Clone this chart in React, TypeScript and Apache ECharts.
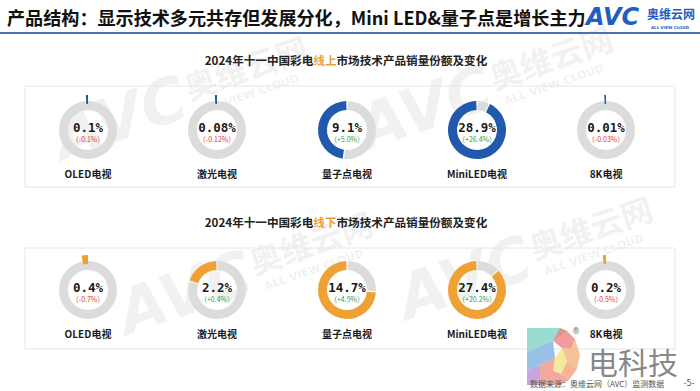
import React, { useEffect, useRef } from "react";
import * as echarts from "echarts";

const categories = ["OLED电视", "激光电视", "量子点电视", "MiniLED电视", "8K电视"];
// 线上 (online)
const onlineShare = [0.1, 0.08, 9.1, 28.9, 0.01];
const onlineChange = [-0.1, -0.12, 5.0, 26.4, -0.03];
const onlineArc = [1, 1, 48, 93, 0.8]; // ring fill as drawn in the picture (%)
// 线下 (offline)
const offlineShare = [0.4, 2.2, 14.7, 27.4, 0.2];
const offlineChange = [-0.7, 0.4, 4.9, 20.2, -0.5];
const offlineArc = [3, 20, 74, 87, 1.5];

const mainTitle = "产品结构：显示技术多元共存但发展分化，Mini LED&量子点是增长主力";
const headingPre = "2024年十一中国彩电";
const headingPost = "市场技术产品销量份额及变化";
const footnote = "数据来源：奥维云网（AVC）监测数据";

const BLUE = "#2159ad";
const ORANGE = "#eea135";
const GRAY = "#dcdcdc";
const CJK = "'Noto Sans CJK SC', sans-serif";

const decimals = (v: number) => {
  const s = String(Math.abs(v));
  const i = s.indexOf(".");
  return Math.max(1, i < 0 ? 0 : s.length - i - 1);
};
const fmt = (v: number) => v.toFixed(decimals(v));
const fmtChange = (v: number) => (v >= 0 ? "+" : "-") + Math.abs(v).toFixed(decimals(v));

const CX = [88, 217, 347, 477, 606];
const ROWS = [
  { cy: 130, share: onlineShare, change: onlineChange, arc: onlineArc, color: BLUE, word: "线上", hy: 60, box: 86 },
  { cy: 290, share: offlineShare, change: offlineChange, arc: offlineArc, color: ORANGE, word: "线下", hy: 222, box: 248 },
];
const R_IN = 20;
const R_OUT = 29;

function txt(x: number, y: number, text: string, font: string, fill: string, align = "center", extra: any = {}) {
  const { style: extraStyle, ...rest } = extra;
  return {
    type: "text",
    x,
    y,
    z: 10,
    silent: true,
    style: { text, font, fill, textAlign: align, textVerticalAlign: "middle", align, verticalAlign: "middle", ...(extraStyle || {}) },
    ...rest,
  };
}

function watermark(x: number, y: number) {
  const fill = "rgba(170,170,170,0.17)";
  return {
    type: "group",
    x,
    y,
    rotation: 0.33,
    z: 1,
    silent: true,
    children: [
      { type: "text", x: 0, y: 0, style: { text: "AVC", font: "italic bold 62px 'DejaVu Sans'", fill, textVerticalAlign: "middle", verticalAlign: "middle" } },
      { type: "text", x: 140, y: -8, style: { text: "奥维云网", font: `bold 32px ${CJK}`, fill, textVerticalAlign: "middle", verticalAlign: "middle" } },
      { type: "text", x: 146, y: 20, style: { text: "ALL VIEW CLOUD", font: "bold 11px 'DejaVu Sans'", fill, textVerticalAlign: "middle", verticalAlign: "middle" } },
    ],
  };
}

export default function App() {
  const ref = useRef<HTMLDivElement>(null);
  useEffect(() => {
    if (!ref.current) return;
    const chart = echarts.init(ref.current, null, { renderer: "svg" });
    const series: any[] = [];
    const graphic: any[] = [];

    // header
    graphic.push(txt(7, 17, mainTitle, `bold 18.1px ${CJK}`, "#111", "left"));
    graphic.push({ type: "rect", shape: { x: 0, y: 32, width: 700, height: 2 }, style: { fill: "#4a72ae" }, z: 5 });
    // AVC logo
    graphic.push(txt(586, 17, "AVC", "italic bold 24px 'DejaVu Sans'", "#1f5fbf", "left"));
    graphic.push(txt(647, 13, "奥维云网", `bold 12px ${CJK}`, "#1f5fbf", "left"));
    graphic.push(txt(651, 27, "ALL VIEW CLOUD", "bold 4px 'DejaVu Sans'", "#1f5fbf", "left"));

    // watermarks
    graphic.push(watermark(55, 140));
    graphic.push(watermark(360, 130));
    graphic.push(watermark(120, 315));
    graphic.push(watermark(400, 300));

    ROWS.forEach((row) => {
      // heading (rich text so the coloured word sits inline)
      graphic.push({
        type: "text",
        x: 346,
        y: row.hy,
        z: 10,
        silent: true,
        style: {
          text: `{a|${headingPre}}{b|${row.word}}{a|${headingPost}}`,
          font: `bold 11.6px ${CJK}`,
          textAlign: "center",
          textVerticalAlign: "middle",
          align: "center",
          verticalAlign: "middle",
          rich: {
            a: { fill: "#222", color: "#222", font: `bold 11.6px ${CJK}`, fontSize: 11.6, fontWeight: "bold", fontFamily: CJK },
            b: { fill: "#e9a23b", color: "#e9a23b", font: `bold 11.6px ${CJK}`, fontSize: 11.6, fontWeight: "bold", fontFamily: CJK },
          },
        },
      });
      // panel
      graphic.push({
        type: "rect",
        shape: { x: 25, y: row.box, width: 650, height: 101 },
        style: { fill: "none", stroke: "#e6e6e6", lineWidth: 1 },
        z: 2,
        silent: true,
      });

      categories.forEach((cat, i) => {
        const cx = CX[i];
        const arc = row.arc[i];
        const tiny = arc < 4;
        if (tiny) {
          series.push({
            type: "pie",
            center: [cx, row.cy],
            radius: [R_IN, R_OUT],
            silent: true,
            label: { show: false },
            labelLine: { show: false },
            data: [{ value: 100, itemStyle: { color: GRAY } }],
            z: 3,
          });
          series.push({
            type: "pie",
            center: [cx, row.cy],
            radius: [R_OUT - 3, R_OUT + 6],
            startAngle: 90,
            clockwise: false,
            silent: true,
            label: { show: false },
            labelLine: { show: false },
            data: [
              { value: arc, itemStyle: { color: row.color } },
              { value: 100 - arc, itemStyle: { color: "rgba(0,0,0,0)" } },
            ],
            z: 4,
          });
        } else {
          series.push({
            type: "pie",
            center: [cx, row.cy],
            radius: [R_IN, R_OUT],
            startAngle: 90,
            clockwise: false,
            padAngle: 3,
            silent: true,
            label: { show: false },
            labelLine: { show: false },
            data: [
              { value: arc, itemStyle: { color: row.color } },
              { value: 100 - arc, itemStyle: { color: GRAY } },
            ],
            z: 3,
          });
        }
        const ch = row.change[i];
        graphic.push(txt(cx, row.cy - 3, fmt(row.share[i]) + "%", "bold 12.5px 'DejaVu Sans Mono'", "#1a1a1a"));
        graphic.push(txt(cx, row.cy + 9, "（" + fmtChange(ch) + "%）", `7px ${CJK}`, ch >= 0 ? "#27a348" : "#e23a30"));
        graphic.push(txt(cx, row.cy + 43, cat, `bold 10px ${CJK}`, "#1a1a1a"));
      });
    });

    // 电科技 watermark logo
    const logoParts: [string, number[][]][] = [
      ["#82d3c7", [[527, 328], [560, 328], [567, 331], [553, 341], [538, 347], [527, 352]]],
      ["#ef8585", [[560, 328], [567, 331], [575, 339], [571, 349], [562, 348], [553, 341]]],
      ["#f4b47e", [[575, 339], [580, 355], [577, 369], [567, 362], [562, 348], [571, 349]]],
      ["#f3e382", [[562, 348], [567, 362], [561, 374], [553, 371], [555, 358]]],
      ["#f4a17a", [[577, 369], [569, 380], [561, 374], [567, 362]]],
      ["#ee9484", [[540, 365], [555, 358], [553, 371], [561, 374], [569, 380], [560, 385], [540, 385]]],
      ["#80b2e0", [[527, 352], [538, 347], [553, 341], [555, 358], [540, 365], [527, 370]]],
      ["#b98fd8", [[527, 370], [540, 365], [540, 385], [527, 385]]],
    ];
    logoParts.forEach(([c, pts]) =>
      graphic.push({ type: "polygon", shape: { points: pts }, style: { fill: c, opacity: 0.8 }, z: 20, silent: true })
    );
    graphic.push(txt(576, 331, "®", "8px 'DejaVu Sans'", "#666", "center", { z: 21 }));
    graphic.push(txt(588, 361, "电科技", `30px ${CJK}`, "rgba(120,120,120,0.9)", "left", { z: 21, style: { lineHeight: 26 } }));

    // footer
    graphic.push(txt(530, 383, footnote, `8px ${CJK}`, "#555", "left", { z: 22 }));
    graphic.push(txt(689, 383, "-5-", "8px 'DejaVu Sans'", "#555", "center", { z: 22 }));

    chart.setOption({
      animation: false,
      backgroundColor: "#ffffff",
      series,
      graphic: { elements: graphic },
    });
    return () => chart.dispose();
  }, []);
  return <div ref={ref} style={{ position: "fixed", left: 0, top: 0, width: 700, height: 391 }} />;
}
